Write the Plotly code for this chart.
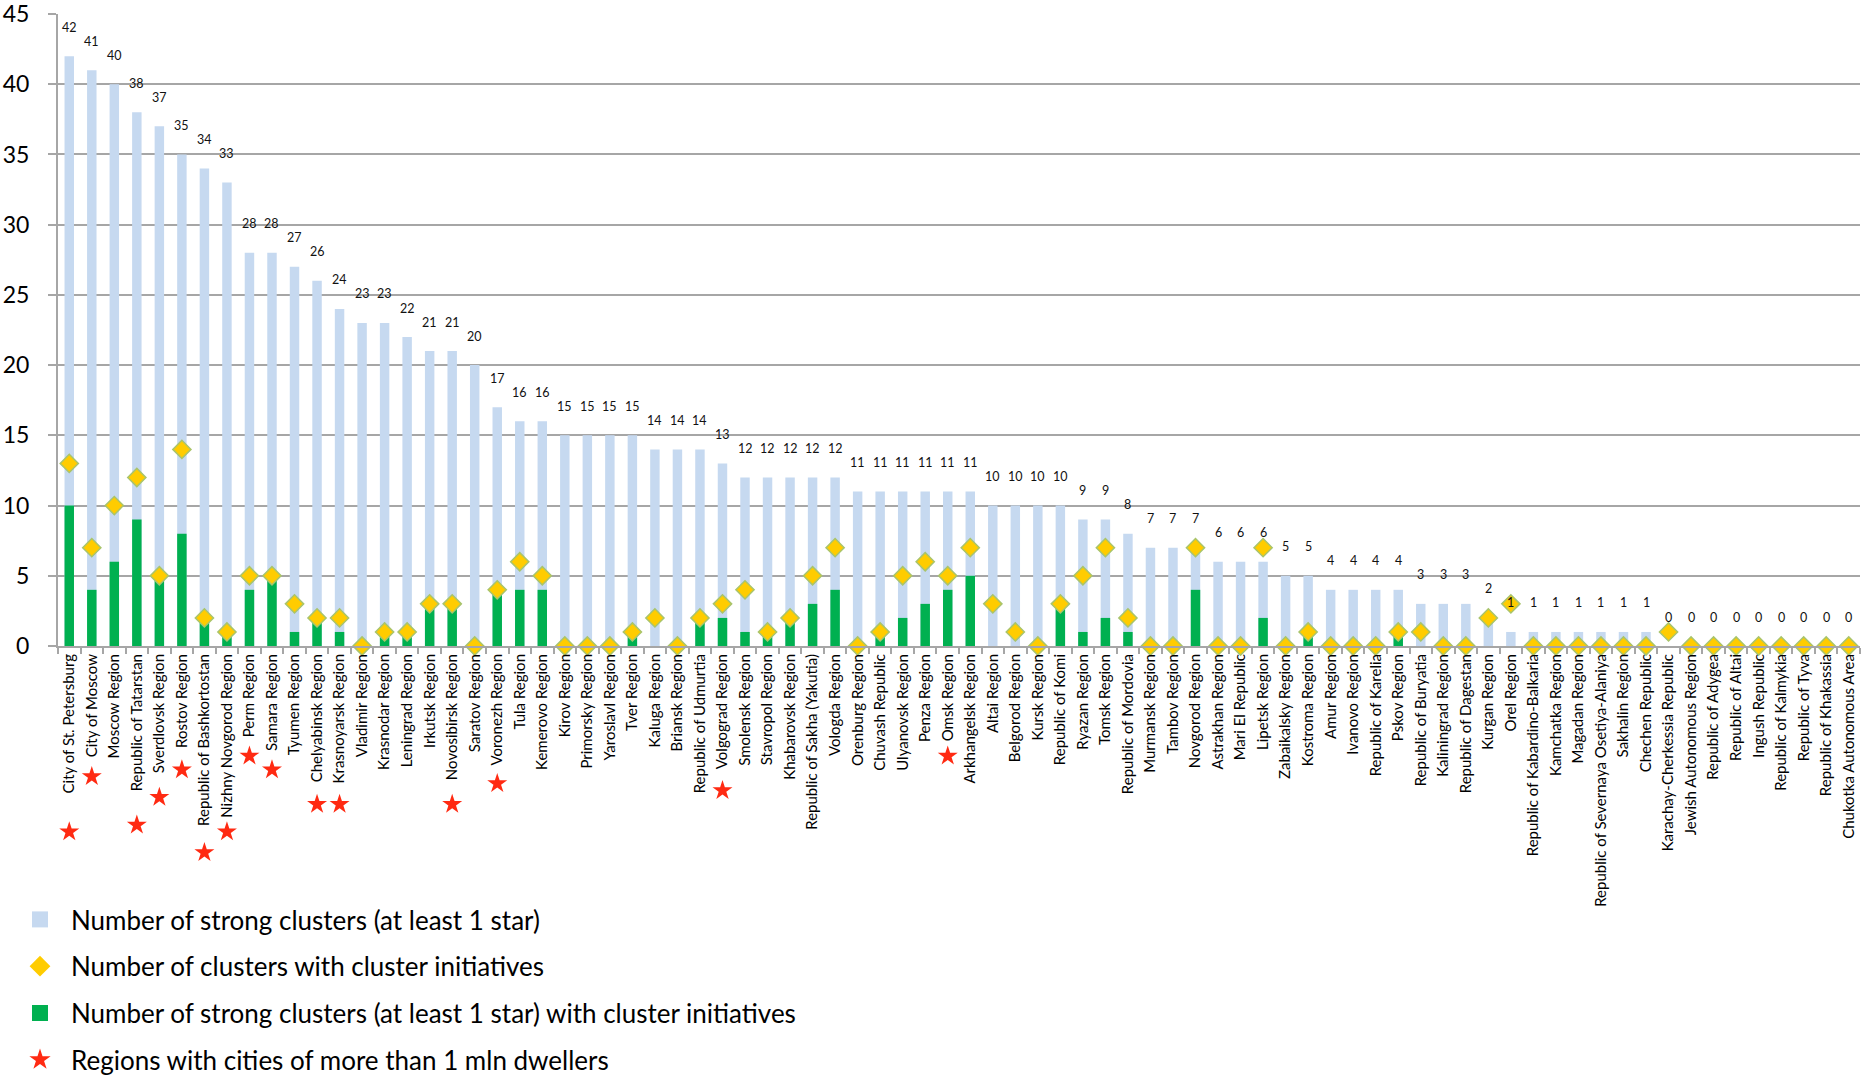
import plotly.graph_objects as go

# Russian regions ranked by number of strong clusters
regions = [
    "City of St. Petersburg", "City of Moscow", "Moscow Region", "Republic of Tatarstan",
    "Sverdlovsk Region", "Rostov Region", "Republic of Bashkortostan", "Nizhny Novgorod Region",
    "Perm Region", "Samara Region", "Tyumen Region", "Chelyabinsk Region", "Krasnoyarsk Region",
    "Vladimir Region", "Krasnodar Region", "Leningrad Region", "Irkutsk Region",
    "Novosibirsk Region", "Saratov Region", "Voronezh Region", "Tula Region", "Kemerovo Region",
    "Kirov Region", "Primorsky Region", "Yaroslavl Region", "Tver Region", "Kaluga Region",
    "Briansk Region", "Republic of Udmurtia", "Volgograd Region", "Smolensk Region",
    "Stavropol Region", "Khabarovsk Region", "Republic of Sakha (Yakutia)", "Vologda Region",
    "Orenburg Region", "Chuvash Republic", "Ulyanovsk Region", "Penza Region", "Omsk Region",
    "Arkhangelsk Region", "Altai Region", "Belgorod Region", "Kursk Region", "Republic of Komi",
    "Ryazan Region", "Tomsk Region", "Republic of Mordovia", "Murmansk Region", "Tambov Region",
    "Novgorod Region", "Astrakhan Region", "Mari El Republic", "Lipetsk Region",
    "Zabaikalsky Region", "Kostroma Region", "Amur Region", "Ivanovo Region",
    "Republic of Karelia", "Pskov Region", "Republic of Buryatia", "Kaliningrad Region",
    "Republic of Dagestan", "Kurgan Region", "Orel Region", "Republic of Kabardino-Balkaria",
    "Kamchatka Region", "Magadan Region", "Republic of Severnaya Osetiya-Alaniya",
    "Sakhalin Region", "Chechen Republic", "Karachay-Cherkessia Republic",
    "Jewish Autonomous Region", "Republic of Adygea", "Republic of Altai", "Ingush Republic",
    "Republic of Kalmykia", "Republic of Tyva", "Republic of Khakassia",
    "Chukotka Autonomous Area",
]

strong_clusters = [
    42, 41, 40, 38, 37, 35, 34, 33, 28, 28, 27, 26, 24, 23, 23, 22, 21, 21, 20, 17,
    16, 16, 15, 15, 15, 15, 14, 14, 14, 13, 12, 12, 12, 12, 12, 11, 11, 11, 11, 11,
    11, 10, 10, 10, 10, 9, 9, 8, 7, 7, 7, 6, 6, 6, 5, 5, 4, 4, 4, 4,
    3, 3, 3, 2, 1, 1, 1, 1, 1, 1, 1, 0, 0, 0, 0, 0, 0, 0, 0, 0,
]

clusters_with_initiatives = [
    13, 7, 10, 12, 5, 14, 2, 1, 5, 5, 3, 2, 2, 0, 1, 1, 3, 3, 0, 4,
    6, 5, 0, 0, 0, 1, 2, 0, 2, 3, 4, 1, 2, 5, 7, 0, 1, 5, 6, 5,
    7, 3, 1, 0, 3, 5, 7, 2, 0, 0, 7, 0, 0, 7, 0, 1, 0, 0, 0, 1,
    1, 0, 0, 2, 3, 0, 0, 0, 0, 0, 0, 1, 0, 0, 0, 0, 0, 0, 0, 0,
]

strong_with_initiatives = [
    10, 4, 6, 9, 5, 8, 2, 1, 4, 5, 1, 2, 1, 0, 1, 1, 3, 3, 0, 4,
    4, 4, 0, 0, 0, 1, 0, 0, 2, 2, 1, 1, 2, 3, 4, 0, 1, 2, 3, 4,
    5, 0, 0, 0, 3, 1, 2, 1, 0, 0, 4, 0, 0, 2, 0, 1, 0, 0, 0, 1,
    0, 0, 0, 0, 0, 0, 0, 0, 0, 0, 0, 0, 0, 0, 0, 0, 0, 0, 0, 0,
]

million_plus_regions = [
    "City of St. Petersburg", "City of Moscow", "Republic of Tatarstan", "Sverdlovsk Region",
    "Rostov Region", "Republic of Bashkortostan", "Nizhny Novgorod Region", "Perm Region",
    "Samara Region", "Chelyabinsk Region", "Krasnoyarsk Region", "Novosibirsk Region",
    "Voronezh Region", "Volgograd Region", "Omsk Region",
]

legend_names = [
    "Number of strong clusters (at least 1 star)",
    "Number of clusters with cluster initiatives",
    "Number of strong clusters (at least 1 star) with cluster initiatives",
    "Regions with cities of more than 1 mln dwellers",
]

# styling
FONT = "Lato"
LIGHT_BLUE = "#C6D9F0"
GREEN = "#00B050"
GOLD = "#FFCC00"
DIAMOND_EDGE = "#A9C46C"
STAR_RED = "#FF2A12"
GRID = "#A6A6A6"

W, H = 1862, 1075
M_L, M_R, M_T, M_B = 58, 2, 14, 0
AXIS_BOTTOM_PX = 646  # pixel row of the value axis zero line
plot_h = H - M_T - M_B
y_dom_bottom = (H - M_B - AXIS_BOTTOM_PX) / plot_h

fig = go.Figure()

fig.add_trace(go.Bar(
    x=regions, y=strong_clusters, width=0.42,
    marker=dict(color=LIGHT_BLUE, line=dict(width=0)),
    showlegend=False, hoverinfo="x+y",
))
fig.add_trace(go.Bar(
    x=regions, y=strong_with_initiatives, width=0.42,
    marker=dict(color=GREEN, line=dict(width=0)),
    showlegend=False, hoverinfo="x+y",
))
fig.add_trace(go.Scatter(
    x=regions, y=clusters_with_initiatives, mode="markers",
    marker=dict(symbol="diamond", size=14, color=GOLD,
                line=dict(color=DIAMOND_EDGE, width=1.5)),
    cliponaxis=False, showlegend=False,
))

# stars sit beneath the rotated category labels; the second y axis is in
# page pixels so the star can follow the length of each label
CHAR_PX = 6.9
star_x, star_y = [], []
for name in regions:
    if name in million_plus_regions:
        star_x.append(name)
        star_y.append(AXIS_BOTTOM_PX + 34 + len(name) * CHAR_PX)
fig.add_trace(go.Scatter(
    x=star_x, y=star_y, yaxis="y2", mode="markers",
    marker=dict(symbol="star", size=15, color=STAR_RED, line=dict(width=0)),
    cliponaxis=False, showlegend=False, hoverinfo="x",
))

# legend entries
legend_styles = [
    dict(symbol="square", size=16, color=LIGHT_BLUE, line=dict(width=0)),
    dict(symbol="diamond", size=16, color=GOLD, line=dict(width=0)),
    dict(symbol="square", size=16, color=GREEN, line=dict(width=0)),
    dict(symbol="star", size=16, color=STAR_RED, line=dict(width=0)),
]
for i, (name, mk) in enumerate(zip(legend_names, legend_styles)):
    fig.add_trace(go.Scatter(
        x=[None], y=[None], mode="markers", name=name, marker=mk,
        legendgroup=f"g{i}", showlegend=True,
    ))

# value labels above each bar
for name, v in zip(regions, strong_clusters):
    fig.add_annotation(
        x=name, y=v, text=str(v), showarrow=False, yshift=29,
        font=dict(family=FONT, size=12.5, color="#111111"),
    )

fig.update_layout(
    width=W, height=H,
    margin=dict(l=M_L, r=M_R, t=M_T, b=M_B, pad=0, autoexpand=False),
    paper_bgcolor="white", plot_bgcolor="rgba(0,0,0,0)",
    barmode="overlay", bargap=0.58,
    font=dict(family=FONT, color="black"),
    xaxis=dict(
        type="category", range=[-0.5, len(regions) - 0.5],
        tickangle=-90, tickson="boundaries", ticks="outside", ticklen=6,
        tickcolor=GRID, tickwidth=1.5,
        showline=True, linecolor=GRID, linewidth=2,
        showgrid=False, tickfont=dict(family=FONT, size=15, color="black"),
        anchor="y", fixedrange=True, automargin=False,
    ),
    yaxis=dict(
        domain=[y_dom_bottom, 1], range=[0, 45], dtick=5,
        showgrid=True, gridcolor=GRID, gridwidth=2,
        showline=True, linecolor=GRID, linewidth=2,
        ticks="outside", ticklen=8, tickcolor=GRID, tickwidth=2,
        ticklabelstandoff=14, zeroline=False, ticklabeloverflow="allow",
        tickfont=dict(family=FONT, size=23, color="black"),
        anchor="x", automargin=False,
    ),
    yaxis2=dict(
        domain=[0, 1], range=[H - M_B, M_T], visible=False,
        anchor="x", showgrid=False, zeroline=False,
    ),
    legend=dict(
        x=(9 - M_L) / (W - M_L - M_R), y=-9 / plot_h,
        xanchor="left", yanchor="bottom",
        traceorder="grouped", tracegroupgap=10, itemwidth=52,
        font=dict(family=FONT, size=26, color="black"),
        bgcolor="rgba(0,0,0,0)", itemsizing="trace",
    ),
    showlegend=True,
)

fig.write_html("out.html")
